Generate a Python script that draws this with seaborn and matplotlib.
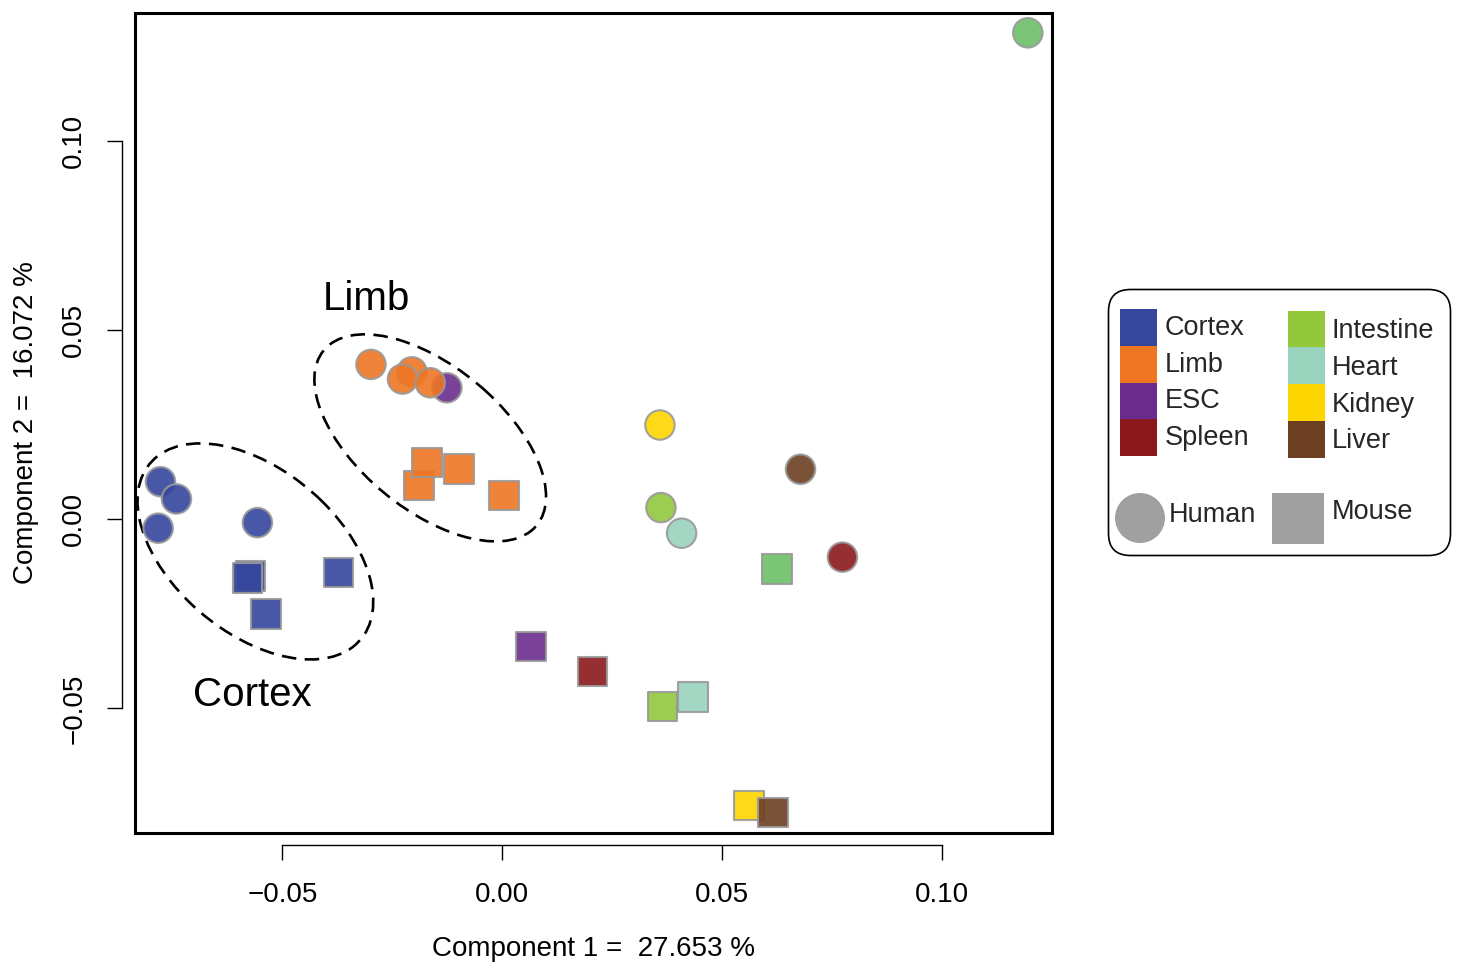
import numpy as np
import pandas as pd
import matplotlib
matplotlib.use("Agg")
import matplotlib.pyplot as plt
from matplotlib.patches import Ellipse, Rectangle, FancyBboxPatch, Circle
import seaborn as sns

# ---------------- data ----------------
species = (["Human"] * 15) + (["Mouse"] * 15)
tissue = ["Cortex", "Cortex", "Cortex", "Cortex", "ESC", "Limb", "Limb", "Limb", "Limb",
          "Kidney", "Intestine", "Heart", "Liver", "Spleen", "Other",
          "Cortex", "Cortex", "Cortex", "Cortex", "Limb", "Limb", "Limb", "Limb",
          "ESC", "Spleen", "Intestine", "Heart", "Kidney", "Liver", "Other"]
pc1 = [-0.07773, -0.07409, -0.07825, -0.05568, -0.01257, -0.02984, -0.02052, -0.02266, -0.01636,
       0.03591, 0.03614, 0.04084, 0.06789, 0.07743, 0.11961,
       -0.05727, -0.05789, -0.05370, -0.03727, -0.01886, -0.01711, -0.00984, 0.00045,
       0.00659, 0.02061, 0.03652, 0.04348, 0.05614, 0.06166, 0.06257]
pc2 = [0.00998, 0.00541, -0.00232, -0.00085, 0.03481, 0.04099, 0.03904, 0.03711, 0.03613,
       0.02496, 0.00312, -0.00365, 0.01326, -0.00998, 0.12868,
       -0.01492, -0.01553, -0.02504, -0.01405, 0.00903, 0.01511, 0.01334, 0.00639,
       -0.03360, -0.04020, -0.04945, -0.04696, -0.07559, -0.07744, -0.01315]

legend_col1 = ["Cortex", "Limb", "ESC", "Spleen"]
legend_col2 = ["Intestine", "Heart", "Kidney", "Liver"]
tissue_colors = {
    "Cortex": "#35469C", "Limb": "#EE7623", "ESC": "#6A2C8C", "Spleen": "#8B181B",
    "Intestine": "#93C83D", "Heart": "#99D3BE", "Kidney": "#FDD500", "Liver": "#6C3F22",
    "Other": "#6DBF67",
}
xticks = [-0.05, 0.00, 0.05, 0.10]
yticks = [-0.05, 0.00, 0.05, 0.10]
xlabel = "Component 1 =  27.653 %"
ylabel = "Component 2 =  16.072 %"

# group ellipses: name, center x, center y, half-width (x), half-height (y), correlation
ellipses = [
    ("Cortex", -0.05614, -0.00847, 0.02682, 0.02857, -0.468),
    ("Limb", -0.01636, 0.02156, 0.02636, 0.02738, -0.566),
]
group_labels = [("Limb", -0.0308, 0.0553), ("Cortex", -0.0569, -0.0494)]

df = pd.DataFrame({"species": species, "tissue": tissue, "pc1": pc1, "pc2": pc2})

# ---------------- figure ----------------
sns.set_theme(style="white")
plt.rcParams["font.family"] = ["Liberation Sans", "DejaVu Sans"]

W, H = 1458, 966
fig = plt.figure(figsize=(W / 100, H / 100), dpi=100)
ax = fig.add_axes([134.5 / W, 1 - 832.5 / H, (1051.5 - 134.5) / W, (832.5 - 12.5) / H])

sns.scatterplot(data=df, x="pc1", y="pc2", hue="tissue", style="species",
                palette=tissue_colors, markers={"Human": "o", "Mouse": "s"},
                s=450, linewidth=1.5, edgecolor="#999999", alpha=0.9,
                legend=False, ax=ax, zorder=3)

ax.set_xlim(-0.08364, 0.125)
ax.set_ylim(-0.0828, 0.13405)

# ellipses
for name, cx, cy, hw, hh, rho in ellipses:
    cov = np.array([[hw ** 2, rho * hw * hh], [rho * hw * hh, hh ** 2]])
    vals, vecs = np.linalg.eigh(cov)
    ang = np.degrees(np.arctan2(vecs[1, 1], vecs[0, 1]))
    e = Ellipse((cx, cy), 2 * np.sqrt(vals[1]), 2 * np.sqrt(vals[0]), angle=ang,
                fill=False, ec="black", lw=1.9, ls=(0, (5.5, 3.2)), zorder=2)
    ax.add_patch(e)

for txt, x, y in group_labels:
    ax.text(x, y, txt, fontsize=29, ha="center", va="baseline", color="black")

# R-like axes
for side in ["top", "right"]:
    ax.spines[side].set_visible(False)
for side in ["left", "bottom"]:
    ax.spines[side].set_position(("outward", 9))
    ax.spines[side].set_linewidth(1.0)
    ax.spines[side].set_color("black")
ax.spines["bottom"].set_bounds(xticks[0], xticks[-1])
ax.spines["left"].set_bounds(yticks[0], yticks[-1])
ax.set_xticks(xticks)
ax.set_yticks(yticks)
ax.set_xticklabels([f"{v:.2f}".replace("-", "\u2212") for v in xticks])
ax.set_yticklabels([f"{v:.2f}".replace("-", "\u2212") for v in yticks])
ax.tick_params(axis="both", direction="out", length=11, width=1.0, color="black",
               labelsize=20, labelcolor="black", bottom=True, left=True)
ax.tick_params(axis="x", pad=16)
ax.tick_params(axis="y", pad=14)
for lab in ax.get_yticklabels():
    lab.set_rotation(90)
    lab.set_va("center")
    lab.set_ha("right")
ax.set_xlabel(xlabel, fontsize=20, labelpad=20, color="black")
ax.set_ylabel(ylabel, fontsize=20, labelpad=16, color="black")

# frame box
ax.add_patch(Rectangle((0, 0), 1, 1, transform=ax.transAxes, fill=False,
                       ec="black", lw=2.2, clip_on=False, zorder=5))

# ---------------- legend (drawn in pixel space) ----------------
lax = fig.add_axes([0, 0, 1, 1])
lax.set_xlim(0, W)
lax.set_ylim(H, 0)
lax.axis("off")
lax.add_patch(FancyBboxPatch((1108.5, 289.5), 342, 266,
                             boxstyle="round,pad=0,rounding_size=22",
                             fc="white", ec="black", lw=1.2))
sw_h = 36.8
for i, name in enumerate(legend_col1):
    y0 = 309 + i * sw_h
    lax.add_patch(Rectangle((1120, y0), 37, sw_h, fc=tissue_colors[name], ec="none"))
    lax.text(1165, y0 + sw_h / 2 + 0.5, name, fontsize=19.5, ha="left", va="center")
for i, name in enumerate(legend_col2):
    y0 = 310.5 + i * sw_h
    lax.add_patch(Rectangle((1288, y0), 37, sw_h, fc=tissue_colors[name], ec="none"))
    lax.text(1332, y0 + sw_h / 2 + 2, name, fontsize=19.5, ha="left", va="center")
lax.add_patch(Circle((1140, 518), 25, fc="#A0A0A0", ec="none"))
lax.text(1169, 515, "Human", fontsize=19.5, ha="left", va="center")
lax.add_patch(Rectangle((1272, 492.5), 52, 51, fc="#A0A0A0", ec="none"))
lax.text(1332, 512, "Mouse", fontsize=19.5, ha="left", va="center")

fig.savefig("out.png", dpi=100, facecolor="white")
